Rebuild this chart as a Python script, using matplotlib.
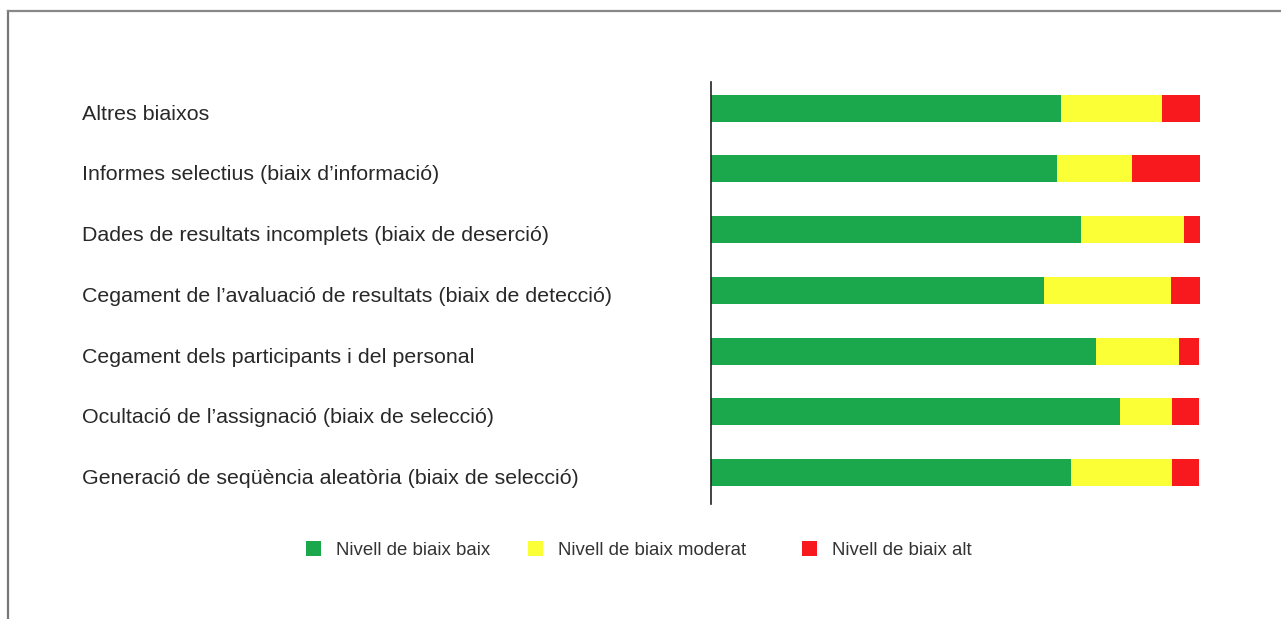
import matplotlib
matplotlib.use("Agg")
import matplotlib.pyplot as plt
import numpy as np
from matplotlib.lines import Line2D
from matplotlib.patches import Patch
from matplotlib.transforms import blended_transform_factory

plt.rcParams["font.family"] = ["Liberation Sans", "DejaVu Sans"]

# categories listed bottom to top
domains = [
    "Generació de seqüència aleatòria (biaix de selecció)",
    "Ocultació de l’assignació (biaix de selecció)",
    "Cegament dels participants i del personal",
    "Cegament de l’avaluació de resultats (biaix de detecció)",
    "Dades de resultats incomplets (biaix de deserció)",
    "Informes selectius (biaix d’informació)",
    "Altres biaixos",
]
low_risk = [73.6, 83.6, 78.7, 68.1, 75.6, 70.7, 71.5]
moderate_risk = [20.7, 10.6, 17.0, 26.0, 21.1, 15.4, 20.7]
high_risk = [5.5, 5.5, 4.1, 5.9, 3.3, 13.9, 7.8]
series_names = ["Nivell de biaix baix", "Nivell de biaix moderat", "Nivell de biaix alt"]
colors = ["#1ba74c", "#faff36", "#f8191f"]

W, H = 1281, 619
fig = plt.figure(figsize=(W / 100, H / 100), dpi=100)

# page frame (top and left edges)
fig.add_artist(Line2D([8 / W, 8 / W], [0, 1 - 11 / H], transform=fig.transFigure, color="#777777", lw=1.6))
fig.add_artist(Line2D([8 / W, 1], [1 - 11 / H, 1 - 11 / H], transform=fig.transFigure, color="#888888", lw=1.6))

ax = fig.add_axes([711.3 / W, (H - 504) / H, (1200 - 711.3) / W, (504 - 81.5) / H])
y = np.arange(len(domains))
left = np.zeros(len(domains))
bars = []
for vals, name, c in zip([low_risk, moderate_risk, high_risk], series_names, colors):
    bars.append(ax.barh(y, vals, left=left, height=0.445, color=c, label=name, linewidth=0))
    left += np.array(vals)

ax.set_xlim(0, 100)
ax.set_ylim(-0.519, 6.44)
for s in ["top", "right", "bottom"]:
    ax.spines[s].set_visible(False)
ax.spines["left"].set_color("#222222")
ax.spines["left"].set_linewidth(1.2)
ax.set_xticks([])
ax.set_yticks([])

trans = blended_transform_factory(fig.transFigure, ax.transData)
for yi, label in zip(y, domains):
    ax.text(82 / W, yi - 0.1, label, transform=trans, ha="left", va="center",
            fontsize=15.4, color="#282828", clip_on=False)

# legend entries are spaced unevenly in the original, so one small legend each
legend_x = [305.7, 528.3, 802.0]
for x0, name, c in zip(legend_x, series_names, colors):
    leg = fig.legend([Patch(facecolor=c, edgecolor="none")], [name], loc="center left",
                     bbox_to_anchor=(x0 / W, 1 - 550 / H), frameon=False, fontsize=13.4,
                     labelcolor="#333333", borderpad=0, borderaxespad=0,
                     handlelength=0.81, handleheight=0.81, handletextpad=0.81)

fig.savefig("out.png", dpi=100)
